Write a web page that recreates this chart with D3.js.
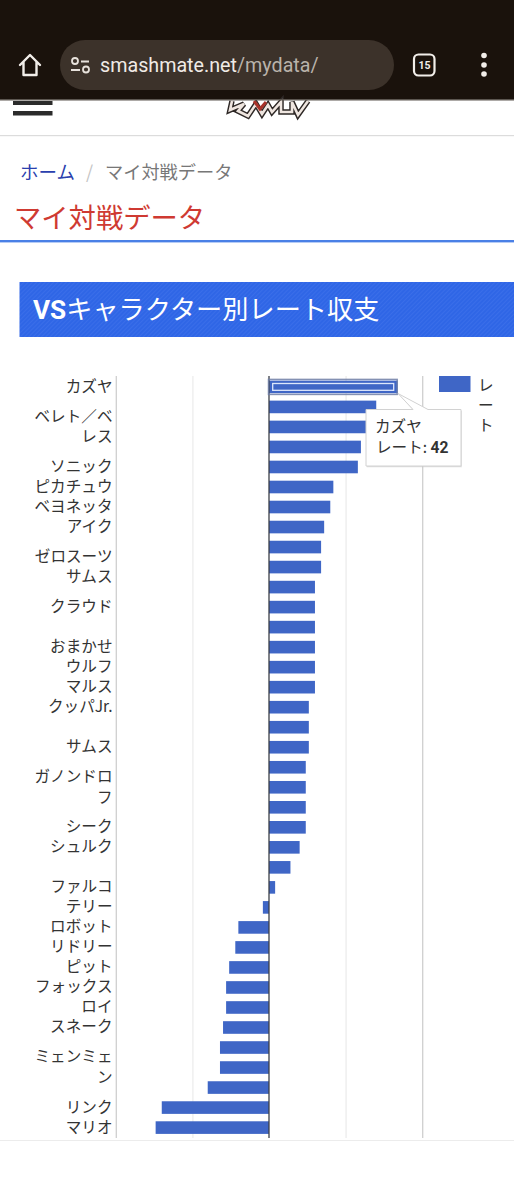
<!DOCTYPE html>
<html lang="ja"><head><meta charset="utf-8">
<script src="https://cdn.jsdelivr.net/npm/d3@7"></script>
<style>
html,body{margin:0;padding:0;background:#fff;overflow:hidden}
svg{display:block}
text{font-family:"Noto Sans CJK JP","Noto Sans",sans-serif}
.ui{font-family:Roboto,"Noto Sans CJK JP",sans-serif}
</style></head><body>
<svg id="c" width="514" height="1200"></svg>
<script>
const categories=["カズヤ","","ベレト／ベレス","","ソニック","ピカチュウ","ベヨネッタ","アイク","","ゼロスーツサムス","","クラウド","","おまかせ","ウルフ","マルス","クッパJr.","","サムス","","ガノンドロフ","","シーク","シュルク","","ファルコ","テリー","ロボット","リドリー","ピット","フォックス","ロイ","スネーク","","ミェンミェン","","リンク","マリオ"];
const rates=[42,35,34,30,29,21,20,18,17,17,15,15,15,15,15,15,13,13,13,12,12,12,12,10,7,2,-2,-10,-11,-13,-14,-14,-15,-16,-16,-20,-35,-37];
const axisTicks=[-50,-25,0,25,50];
const seriesName="レート";
const tooltipTitle="カズヤ";
const tooltipValue=42;

const svg=d3.select("#c");
const BLUE="#3f66c6", INK="#333";
const LABEL=15.6;
const x=d3.scaleLinear().domain([-50,50]).range([115.8,422.2]);
const y=d3.scaleBand().domain(d3.range(categories.length)).range([377,1137.5]).paddingInner(0.37).paddingOuter(0.18);

/* banner texture */
const pat=svg.append("defs").append("pattern").attr("id","stripe").attr("width",3).attr("height",3).attr("patternUnits","userSpaceOnUse").attr("patternTransform","rotate(-45)");
pat.append("rect").attr("width",3).attr("height",3).attr("fill","#2f66e6");
pat.append("rect").attr("width",3).attr("height",1).attr("fill","#3a6ee9");

/* browser chrome */
svg.append("rect").attr("width",514).attr("height",100).attr("fill","#1a120c");
svg.append("rect").attr("x",60).attr("y",40).attr("width",334).attr("height",50).attr("rx",25).attr("fill","#3c322a");
svg.append("path").attr("d","M20 65 L30 55 L40 65 M23.5 62 V75 H36.5 V62").attr("fill","none").attr("stroke","#f2eeea").attr("stroke-width",2.4).attr("stroke-linejoin","round").attr("stroke-linecap","round");
const tune=svg.append("g").attr("fill","none").attr("stroke","#e8e2dc").attr("stroke-width",1.8);
tune.append("circle").attr("cx",75).attr("cy",61).attr("r",3);
tune.append("path").attr("d","M81 61.5H89M71 70H80");
tune.append("circle").attr("cx",86).attr("cy",69.5).attr("r",3);
const url=svg.append("text").attr("class","ui").attr("x",100).attr("y",72).attr("font-size",19.7).attr("fill","#f0ebe6");
url.append("tspan").text("smashmate.net");
url.append("tspan").attr("fill","#b9b2aa").text("/mydata/");
svg.append("rect").attr("x",414).attr("y",54.5).attr("width",20.5).attr("height",21).attr("rx",4.5).attr("fill","none").attr("stroke","#f2eeea").attr("stroke-width",2.2);
svg.append("text").attr("class","ui").attr("x",424.5).attr("y",69).attr("font-size",10.5).attr("font-weight",700).attr("text-anchor","middle").attr("fill","#f2eeea").text("15");
[55.5,65,74].forEach(cy=>svg.append("circle").attr("cx",484).attr("cy",cy).attr("r",2.8).attr("fill","#f2eeea"));

/* site header */
svg.append("rect").attr("x",13).attr("y",101).attr("width",39.5).attr("height",4).attr("fill","#2b2b2b");
svg.append("rect").attr("x",13).attr("y",111).attr("width",39.5).attr("height",4.5).attr("fill","#2b2b2b");
const logoLines="M232 101 L230 110 L244 104 L238 111 L248 116 L256 104 L262 114 L268 105 L272 112 L281 102 L281 112 L292 112 L292 102 L298 115 L308 101";
svg.append("path").attr("d",logoLines).attr("fill","none").attr("stroke","#2e2826").attr("stroke-width",5.5).attr("stroke-linejoin","miter");
svg.append("path").attr("d",logoLines).attr("fill","none").attr("stroke","#efe6e0").attr("stroke-width",2.6);
svg.append("path").attr("d","M254 101 L260 109 L266 102").attr("fill","none").attr("stroke","#a8322a").attr("stroke-width",3);
svg.append("rect").attr("y",99).attr("width",514).attr("height",1.5).attr("fill","#5c5650");
svg.append("rect").attr("y",135).attr("width",514).attr("height",1.2).attr("fill","#dcdcdc");
svg.append("text").attr("x",20).attr("y",179).attr("font-size",18.5).attr("fill","#2a3fae").text("ホーム");
svg.append("text").attr("x",86).attr("y",179).attr("font-size",18).attr("fill","#c4c4c4").text("/");
svg.append("text").attr("x",105).attr("y",179).attr("font-size",18.2).attr("fill","#777").text("マイ対戦データ");
svg.append("text").attr("x",14).attr("y",228).attr("font-size",27.3).attr("fill","#cf3a32").text("マイ対戦データ");
svg.append("rect").attr("y",240).attr("width",514).attr("height",2.4).attr("fill","#4a80e6");
svg.append("rect").attr("x",19.5).attr("y",282).attr("width",494.5).attr("height",55).attr("fill","url(#stripe)");
svg.append("text").attr("x",33).attr("y",318.5).attr("font-size",26.2).attr("fill","#fff").call(t=>{
  t.append("tspan").attr("class","ui").attr("font-weight",700).text("VS");
  t.append("tspan").text("キャラクター別レート収支");
});

/* grid */
const grid=svg.append("g").attr("transform","translate(0,376)").call(d3.axisBottom(x).tickValues(axisTicks).tickSize(762).tickFormat(""));
grid.select(".domain").remove();
grid.selectAll(".tick line").attr("stroke",d=>d===0?"none":(Math.abs(d)===50?"#cfcfcf":"#ececec")).attr("stroke-width",1.3);

/* bars */
svg.append("g").selectAll("rect").data(rates).join("rect")
  .attr("x",d=>Math.min(x(0),x(d)))
  .attr("y",(d,i)=>y(i))
  .attr("width",d=>Math.abs(x(d)-x(0)))
  .attr("height",y.bandwidth())
  .attr("fill",BLUE);

/* zero line */
svg.append("line").attr("x1",x(0)).attr("x2",x(0)).attr("y1",376).attr("y2",1138).attr("stroke","#3b3f48").attr("stroke-width",1.3);

/* category labels */
const yAxis=svg.append("g").attr("transform","translate(116,0)").call(d3.axisLeft(y).tickSize(0).tickPadding(3.5).tickFormat(i=>categories[i]));
yAxis.select(".domain").remove();
yAxis.selectAll("text").attr("font-size",LABEL).attr("fill",INK).each(function(){
  const el=d3.select(this), s=el.text(); if(!s) return;
  const lines=[]; let cur="";
  for(const ch of s){ el.text(cur+ch);
    if(this.getComputedTextLength()>84 && cur){lines.push(cur);cur=ch;} else cur+=ch; }
  lines.push(cur); el.text(null);
  lines.forEach((l,k)=>el.append("tspan").attr("x",-3.5).attr("dy",k===0?(0.32-(lines.length-1)*0.66)+"em":"1.32em").text(l));
});

/* highlight on first bar */
const bx=x(0), bw=x(rates[0])-x(0), by=y(0), bh=y.bandwidth();
svg.append("rect").attr("x",bx-0.5).attr("y",by-1.2).attr("width",bw).attr("height",bh+2.4).attr("fill","none").attr("stroke","#6f7ea6").attr("stroke-width",1.5).attr("opacity",.85);
svg.append("rect").attr("x",bx+3.7).attr("y",by+2.9).attr("width",bw-7.7).attr("height",bh-5.8).attr("fill",BLUE).attr("stroke","#dde7fb").attr("stroke-width",1.3);

/* legend */
svg.append("rect").attr("x",439).attr("y",376).attr("width",31.5).attr("height",16).attr("fill",BLUE);
[...seriesName].forEach((c,i)=>svg.append("text").attr("x",478).attr("y",390.5+i*20.2).attr("font-size",LABEL).attr("fill",INK).text(c));

/* tooltip */
const tt=svg.append("g");
tt.append("path").attr("d","M398 393 L413 409.5 H366 V466 H461 V409.5 H428 Z").attr("fill","#bdbdbd").attr("opacity",.5).attr("transform","translate(0.8,1.2)");
tt.append("path").attr("d","M398 393.5 L413 409.5 H366 V466 H461 V409.5 H428 Z").attr("fill","#fff").attr("stroke","#d2d2d2").attr("stroke-width",1);
tt.append("text").attr("x",375).attr("y",431.5).attr("font-size",LABEL).attr("fill",INK).text(tooltipTitle);
const tv=tt.append("text").attr("x",376).attr("y",452.5).attr("font-size",LABEL).attr("fill",INK);
tv.append("tspan").text(seriesName+": ");
tv.append("tspan").attr("class","ui").attr("font-weight",700).text(tooltipValue);

/* card bottom edge */
svg.append("rect").attr("y",1140).attr("width",514).attr("height",1).attr("fill","#ececec");
</script>
</body></html>
